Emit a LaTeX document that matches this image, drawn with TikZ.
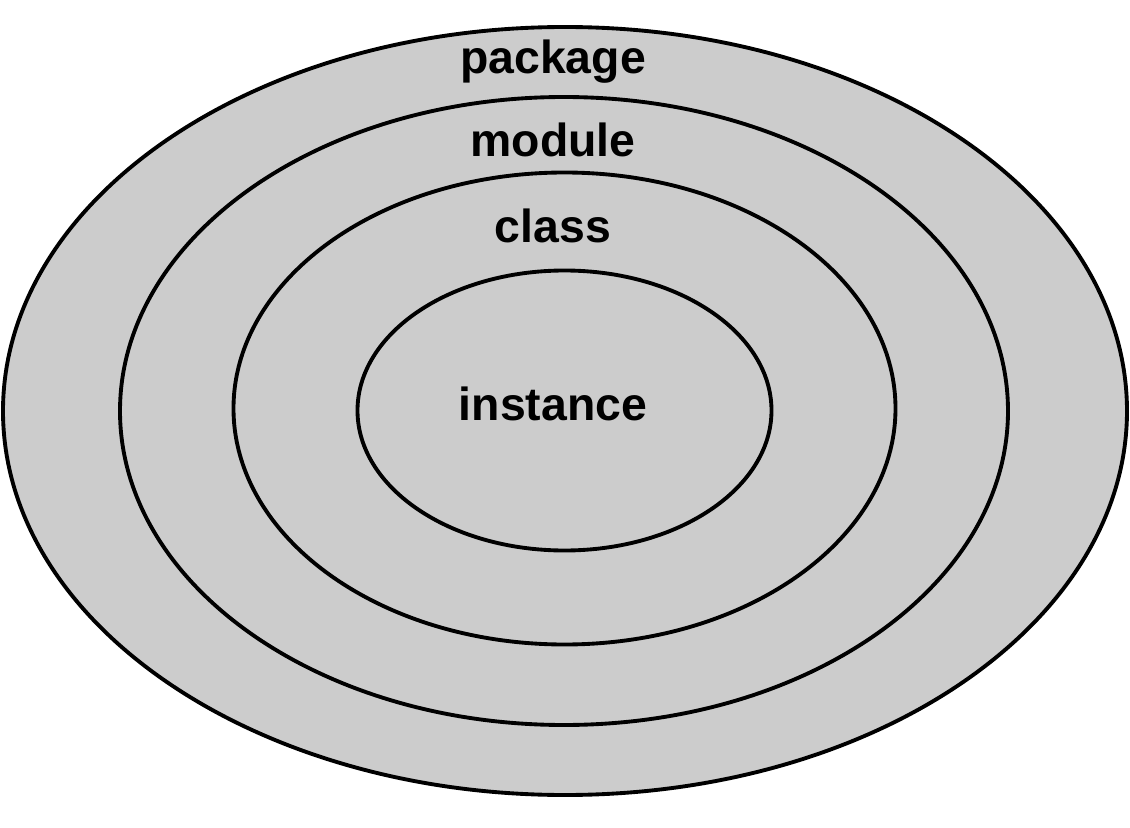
\documentclass[tikz,border=0pt]{standalone}
\usepackage{fontspec}
\setmainfont{Liberation Sans}
\usepackage{tikz}
\usetikzlibrary{positioning}
\definecolor{ringgray}{rgb}{0.8,0.8,0.8}

\begin{document}
\begin{tikzpicture}[x=0.02cm,y=-0.02cm,
    ring/.style={draw=black,fill=ringgray,line width=2.2pt},
    lbl/.style={font=\fontsize{26.4}{30}\selectfont\bfseries,inner sep=0pt}]
    \useasboundingbox[fill=white] (0,0) rectangle (1130,828);
    % nested scopes, outermost first
    \draw[ring] (565,411) ellipse [x radius=562, y radius=384];
    \draw[ring] (564,411) ellipse [x radius=444, y radius=314];
    \draw[ring] (564.5,408.5) ellipse [x radius=331, y radius=236];
    \draw[ring] (564.5,410.5) ellipse [x radius=207, y radius=140];
    \node[lbl] (package) at (553,62) {package};
    \node[lbl] (module) at (553,140) {module};
    \node[lbl] (class) at (553,226) {class};
    \node[lbl] (instance) at (553,404) {instance};
\end{tikzpicture}
\end{document}
